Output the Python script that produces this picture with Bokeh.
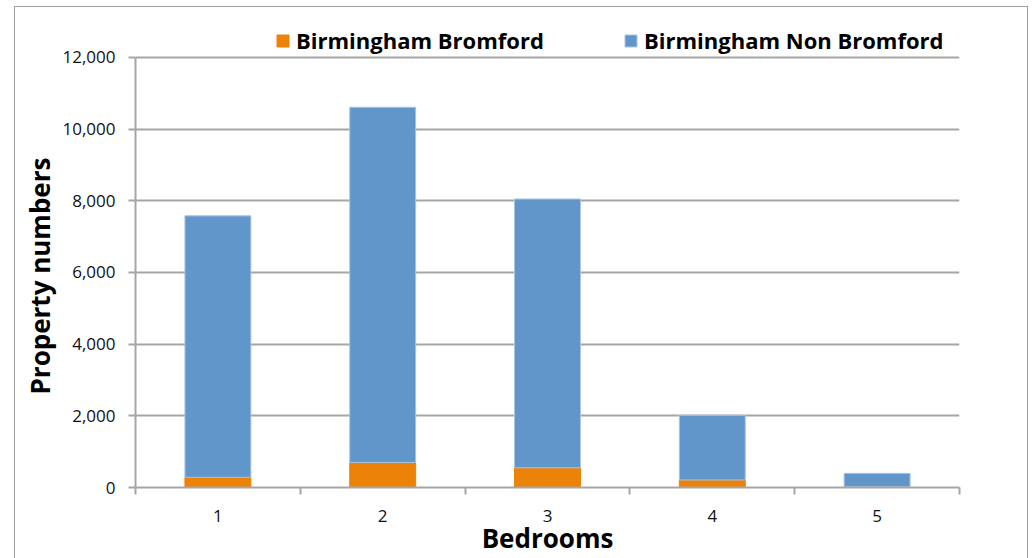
from bokeh.plotting import figure
from bokeh.models import (ColumnDataSource, FixedTicker, NumeralTickFormatter,
                          Legend, LegendItem, Range1d, InlineStyleSheet, Title)
from bokeh.embed import file_html
from bokeh.resources import INLINE

# Property counts by number of bedrooms
bedrooms = [1, 2, 3, 4, 5]
bedroom_labels = ["1", "2", "3", "4", "5"]
bromford = [285, 700, 550, 210, 20]
non_bromford = [7295, 9910, 7500, 1805, 375]
y_ticks = [0, 2000, 4000, 6000, 8000, 10000, 12000]

series = ["bromford", "non_bromford"]
series_names = ["Birmingham Bromford", "Birmingham Non Bromford"]
colors = ["#EC8207", "#6096CA"]

source = ColumnDataSource(data=dict(x=bedrooms, bromford=bromford,
                                    non_bromford=non_bromford))

FONT = "Open Sans"
GRID = "#A6A6A6"

# The frame reaches up above the 12,000 line so the legend can sit there
p = figure(width=1032, height=558, output_backend="svg", toolbar_location=None,
           x_range=Range1d(0.5, 5.5), y_range=Range1d(0, 13310),
           min_border_left=135, min_border_right=73,
           min_border_top=10, min_border_bottom=69)
p.outline_line_color = None
p.background_fill_color = "white"
p.border_fill_color = "white"

renderers = p.vbar_stack(series, x="x", width=0.4, source=source, color=colors,
                         line_color=[colors[0], "#A9C4E4"], line_width=1)

# Axes
p.xaxis.ticker = FixedTicker(ticks=bedrooms,
                             minor_ticks=[b - 0.5 for b in bedrooms] + [bedrooms[-1] + 0.5])
p.xaxis.major_label_overrides = {b: l for b, l in zip(bedrooms, bedroom_labels)}
p.xaxis.major_tick_line_color = None
p.xaxis.minor_tick_line_color = GRID
p.xaxis.minor_tick_line_width = 2
p.xaxis.minor_tick_out = 7
p.xaxis.minor_tick_in = 0
p.xaxis.axis_line_color = GRID
p.xaxis.axis_line_width = 2
p.xaxis.major_label_standoff = 15
p.xaxis.axis_label = "Bedrooms"
p.xaxis.axis_label_standoff = -5

p.yaxis.ticker = FixedTicker(ticks=y_ticks)
p.yaxis.bounds = (y_ticks[0], y_ticks[-1])
p.yaxis.formatter = NumeralTickFormatter(format="0,0")
p.yaxis.minor_tick_line_color = None
p.yaxis.major_tick_line_color = GRID
p.yaxis.major_tick_line_width = 2
p.yaxis.major_tick_out = 7
p.yaxis.major_tick_in = 0
p.yaxis.axis_line_color = GRID
p.yaxis.axis_line_width = 2
p.yaxis.major_label_standoff = 13

for ax in (p.xaxis, p.yaxis):
    ax.major_label_text_font = FONT
    ax.major_label_text_font_size = "17px"
    ax.major_label_text_color = "#111111"
    ax.axis_label_text_font = FONT
    ax.axis_label_text_font_size = "26px"
    ax.axis_label_text_font_style = "bold"
    ax.axis_label_text_color = "black"

# Vertical axis title, centred on the 0-12,000 span rather than the full frame
y_title = Title(text="Property numbers", align="left", offset=93, standoff=4,
                text_font=FONT, text_font_size="26px", text_font_style="bold",
                text_color="black")
p.add_layout(y_title, "left")

p.xgrid.grid_line_color = None
p.ygrid.ticker = FixedTicker(ticks=y_ticks)
p.ygrid.grid_line_color = GRID
p.ygrid.grid_line_width = 2

# Legend entries placed above the 12,000 line
legend_x = [140, 488]
for r, name, lx in zip(renderers, series_names, legend_x):
    leg = Legend(items=[LegendItem(label=name, renderers=[r])],
                 location=(lx, 432), orientation="horizontal",
                 padding=0, margin=0, spacing=0,
                 glyph_width=15, glyph_height=15, label_height=26,
                 label_standoff=6,
                 label_text_font=FONT, label_text_font_size="22px",
                 label_text_font_style="bold", label_text_color="black",
                 border_line_color=None, background_fill_alpha=0)
    p.add_layout(leg, "center")

# Thin grey border around the chart area
p.stylesheets = [InlineStyleSheet(css=(
    ":host::after{content:'';position:absolute;left:14px;top:6px;"
    "width:1014px;height:552px;box-sizing:border-box;"
    "border:1.5px solid #A0A0A0;border-bottom:none;pointer-events:none;}"
))]

open("out.html", "w").write(file_html(p, INLINE))
